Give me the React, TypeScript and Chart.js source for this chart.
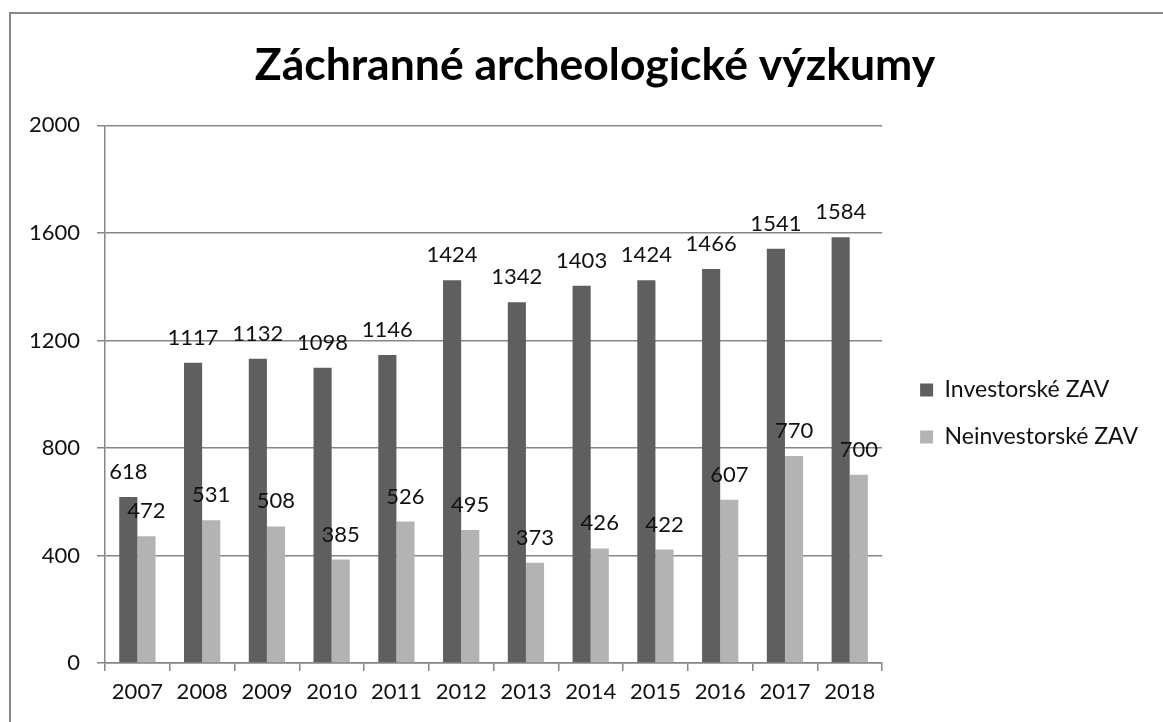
import React, { useEffect, useRef } from "react";
import { Chart, registerables } from "chart.js";

Chart.register(...registerables);

const titleText = "Záchranné archeologické výzkumy";
const years = ["2007", "2008", "2009", "2010", "2011", "2012", "2013", "2014", "2015", "2016", "2017", "2018"];
const investorske = [618, 1117, 1132, 1098, 1146, 1424, 1342, 1403, 1424, 1466, 1541, 1584];
const neinvestorske = [472, 531, 508, 385, 526, 495, 373, 426, 422, 607, 770, 700];
const seriesNames = ["Investorské ZAV", "Neinvestorské ZAV"];
const yTicks = [0, 400, 800, 1200, 1600, 2000];

const FONT = "Lato";
const GRID = "#868686";

const dataLabels = {
  id: "dataLabels",
  afterDatasetsDraw(chart: any) {
    const ctx = chart.ctx;
    ctx.save();
    ctx.font = `22px ${FONT}`;
    ctx.fillStyle = "#111111";
    ctx.textAlign = "center";
    ctx.textBaseline = "alphabetic";
    chart.data.datasets.forEach((ds: any, i: number) => {
      chart.getDatasetMeta(i).data.forEach((el: any, j: number) => {
        ctx.fillText(String(ds.data[j]), el.x, el.y - 18);
      });
    });
    ctx.restore();
  },
};

export default function App() {
  const ref = useRef<HTMLCanvasElement>(null);
  useEffect(() => {
    document.body.style.margin = "0";
    const chart = new Chart(ref.current!, {
      type: "bar",
      data: {
        labels: years,
        datasets: [
          { label: seriesNames[0], data: investorske, backgroundColor: "#5f5f5f", categoryPercentage: 0.56, barPercentage: 1 },
          { label: seriesNames[1], data: neinvestorske, backgroundColor: "#b3b3b3", categoryPercentage: 0.56, barPercentage: 1 },
        ],
      },
      options: {
        animation: false,
        responsive: false,
        devicePixelRatio: 1,
        layout: { padding: { left: 0, top: 0, right: 24, bottom: 0 } },
        plugins: {
          title: {
            display: true,
            text: titleText,
            color: "#000000",
            font: { family: FONT, size: 44.5, weight: "bold", lineHeight: 1.2 },
            padding: { top: 25, bottom: 33 },
          },
          legend: {
            position: "right",
            align: "center",
            maxWidth: 400,
            title: { display: true, text: "", font: { size: 10, lineHeight: 1 }, padding: { top: 81, bottom: 0 } },
            labels: {
              boxWidth: 13,
              boxHeight: 13,
              padding: 24,
              color: "#111111",
              font: { family: FONT, size: 23 },
            },
          },
          tooltip: { enabled: false },
        },
        scales: {
          x: {
            grid: { drawOnChartArea: false, drawTicks: true, tickLength: 8, color: GRID, lineWidth: 1.5, offset: true },
            border: { display: true, color: GRID, width: 1.5 },
            ticks: { color: "#111111", font: { family: FONT, size: 22 }, padding: 8, maxRotation: 0 },
            afterFit: (s: any) => { s.height = 59; },
          },
          y: {
            min: 0,
            max: 2000,
            afterBuildTicks: (s: any) => { s.ticks = yTicks.map((v) => ({ value: v })); },
            grid: { color: GRID, lineWidth: 1.5, tickLength: 8, drawTicks: true },
            border: { display: true, color: GRID, width: 1.5 },
            ticks: { color: "#111111", font: { family: FONT, size: 22 }, padding: 17, callback: (v: any) => String(v) },
            afterFit: (s: any) => { s.width = 94; },
          },
          gap: {
            type: "linear",
            position: "right",
            display: true,
            weight: 0,
            grid: { display: false, drawTicks: false },
            border: { display: false },
            ticks: { display: false },
            afterFit: (s: any) => { s.width = 14; },
          },
          outer: {
            type: "linear",
            position: "right",
            display: true,
            weight: 2000,
            grid: { display: false, drawTicks: false },
            border: { display: false },
            ticks: { display: false },
            afterFit: (s: any) => { s.width = 31; },
          },
        },
      },
      plugins: [dataLabels],
    });
    return () => chart.destroy();
  }, []);

  return (
    <div style={{ position: "fixed", left: 0, top: 0, width: 1163, height: 722, overflow: "hidden", background: "#ffffff" }}>
      <div style={{ position: "absolute", left: 9, top: 12, width: 1200, height: 800, border: "2px solid #878787", boxSizing: "border-box" }} />
      <canvas ref={ref} width={1192} height={708} style={{ position: "absolute", left: 11, top: 14, width: 1192, height: 708 }} />
    </div>
  );
}
